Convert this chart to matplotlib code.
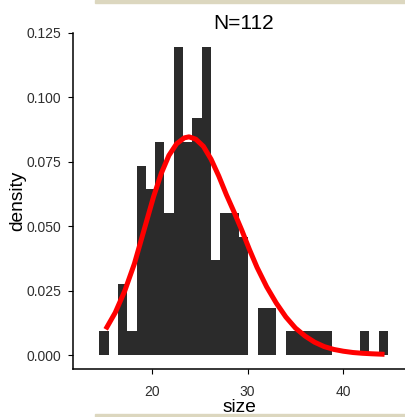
import numpy as np
import matplotlib
matplotlib.use("Agg")
import matplotlib.pyplot as plt
from matplotlib.patches import Rectangle

plt.rcParams["font.family"] = ["Liberation Sans", "DejaVu Sans"]

# --- data -------------------------------------------------------------------
N_OBS = 112
BIN_FIRST, BIN_LAST, N_BINS = 14.53, 44.67, 31   # histogram grid (binwidth ~0.97)
counts = [1, 0, 3, 1, 8, 7, 9, 6, 13, 9, 10, 13, 4, 6, 6, 5,
          0, 2, 2, 0, 1, 1, 1, 1, 1, 0, 0, 0, 1, 0, 1]

# fitted density curve
curve_x = [15.2, 16.2, 17.2, 18.2, 19.2, 20.2, 21.0, 21.8, 22.6, 23.4, 23.9,
           24.6, 25.4, 26.2, 27.0, 27.8, 28.6, 29.4, 30.2, 31.0, 32.0, 33.0,
           34.0, 35.0, 36.0, 37.0, 38.0, 39.0, 40.0, 41.0, 42.0, 43.0, 44.3]
curve_y = [0.0100, 0.0165, 0.0250, 0.0355, 0.0485, 0.0615, 0.0705, 0.0775,
           0.0820, 0.0843, 0.0847, 0.0838, 0.0810, 0.0760, 0.0695, 0.0622,
           0.0555, 0.0485, 0.0410, 0.0340, 0.0265, 0.0202, 0.0148, 0.0105,
           0.0074, 0.0050, 0.0033, 0.0022, 0.0015, 0.0010, 0.0007, 0.0005,
           0.0003]

x_ticks = [20, 30, 40]
y_ticks = [0.000, 0.025, 0.050, 0.075, 0.100, 0.125]

# --- derived ----------------------------------------------------------------
edges = np.linspace(BIN_FIRST, BIN_LAST, N_BINS + 1)
width = edges[1] - edges[0]
density = np.array(counts) / (N_OBS * width)

# --- plot -------------------------------------------------------------------
fig = plt.figure(figsize=(4.06, 4.17), dpi=100)
ax = fig.add_axes([73 / 406, 48 / 417, 1 - 73 / 406, 336 / 417])

ax.bar(edges[:-1], density, width=width, align="edge",
       color="#2b2b2b", linewidth=0)
ax.plot(curve_x, curve_y, color="#ff0000", linewidth=3.6,
        solid_capstyle="butt", solid_joinstyle="round")

ax.set_xlim(11.79, 46.54)
ax.set_ylim(-0.0054, 0.125)
ax.set_xticks(x_ticks)
ax.set_yticks(y_ticks)
ax.set_yticklabels([f"{v:.3f}" for v in y_ticks])

ax.spines[["top", "right"]].set_visible(False)
for s in ("left", "bottom"):
    ax.spines[s].set_linewidth(1.1)
ax.tick_params(axis="both", length=3.8, width=0.8, labelsize=10,
               labelcolor="#2e2e2e")
ax.tick_params(axis="x", pad=7.5)
ax.tick_params(axis="y", pad=4.5)

ax.set_xlabel("size", fontsize=13.8, labelpad=0.3)
ax.set_ylabel("density", fontsize=13.8, labelpad=0.5)
ax.set_title("N=112", fontsize=15, pad=3, x=0.5135)

# beige strips from the source screenshot
band = "#dcd7bf"
fig.patches.append(Rectangle((95 / 406, 1 - 3.3 / 417), 1, 3.3 / 417,
                             transform=fig.transFigure, color=band, zorder=0))
fig.patches.append(Rectangle((95 / 406, 0), 1, 3.3 / 417,
                             transform=fig.transFigure, color=band, zorder=0))

fig.savefig("out.png", dpi=100)
